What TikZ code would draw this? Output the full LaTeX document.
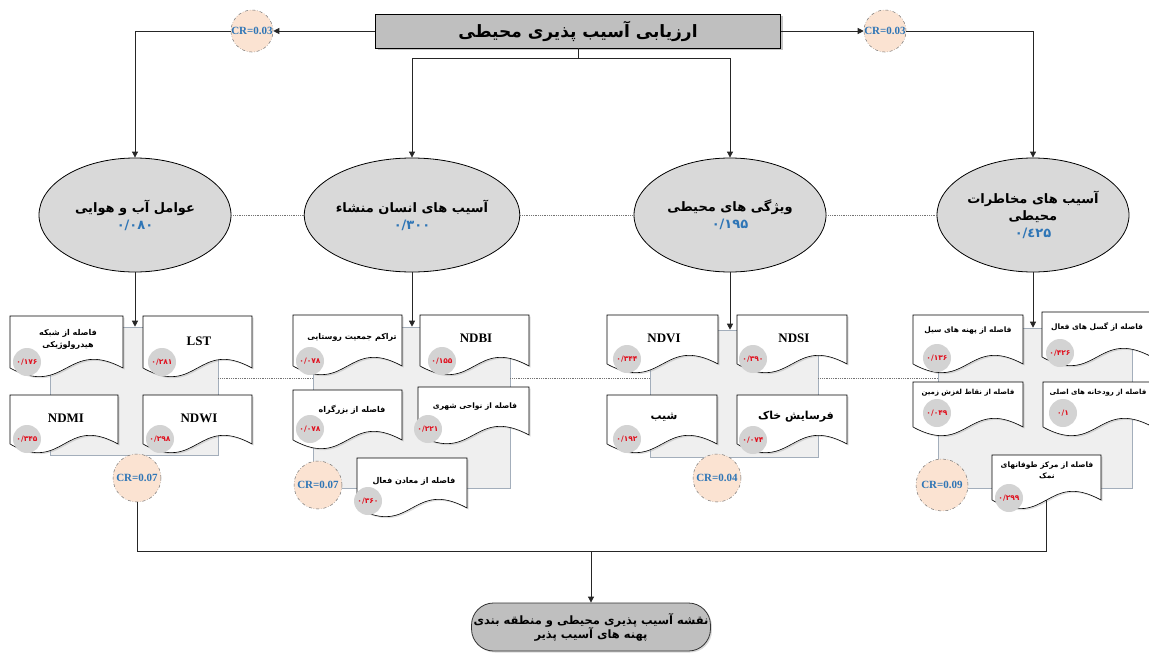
\documentclass[tikz,border=0pt]{standalone}
\usepackage{fontspec}
\setmainfont{Liberation Serif}
\newfontfamily\arabicfont[Script=Arabic]{DejaVu Sans}
\newfontfamily\numfont{DejaVu Sans}
\TeXXeTstate=1
\usetikzlibrary{arrows.meta,shapes.geometric,shadows,calc}
\newcommand\fa[1]{{\arabicfont\beginR #1\endR}}
\definecolor{titlegray}{HTML}{BFBFBF}
\definecolor{ellgray}{HTML}{D9D9D9}
\definecolor{panelgray}{HTML}{EFEFEF}
\definecolor{panelline}{HTML}{A3AEBB}
\definecolor{peach}{HTML}{FBE3D2}
\definecolor{crblue}{HTML}{2E75B6}
\definecolor{valgray}{HTML}{D3D3D3}
\definecolor{valred}{HTML}{E0101E}
\newcommand\mkdoc[5]{%
  \node[docbox, minimum width=#4, minimum height=#5, anchor=north west] (#1) at (#2,#3) {};
  \path[docline] (#1.south west) -- (#1.north west) -- (#1.north east) -- (#1.south east)
    .. controls ($(#1.south)+(0,-30)$) and ($(#1.south)+(0,30)$) .. (#1.south west) -- cycle;}
\begin{document}
\begin{tikzpicture}[x=1pt,y=-1pt,
  titlest/.style={draw=black, line width=0.8pt, fill=titlegray, minimum width=405, minimum height=34,
    font=\arabicfont\bfseries\fontsize{17}{20}\selectfont,
    drop shadow={shadow xshift=2pt,shadow yshift=-2pt,opacity=0.45}},
  ell/.style={ellipse, draw=black, line width=0.8pt, fill=ellgray, minimum width=192, minimum height=114,
    align=center, inner sep=0pt, font=\arabicfont\bfseries\fontsize{13}{17}\selectfont},
  crc/.style={circle, draw=black!55, dash dot, line width=0.5pt, fill=peach, minimum size=#1, inner sep=0pt,
    text=crblue, font=\bfseries\fontsize{11}{13}\selectfont},
  crc/.default=48,
  panel/.style={draw=panelline, fill=panelgray, line width=0.6pt, inner sep=0pt},
  docbox/.style={inner sep=0pt, outer sep=0pt, rectangle},
  docline/.style={draw=black, line width=0.6pt, fill=white,
    drop shadow={shadow xshift=1.5pt,shadow yshift=-1.5pt,opacity=0.25}},
  valc/.style={circle, fill=valgray, inner sep=0pt, minimum size=28, text=valred,
    font=\numfont\bfseries\fontsize{7.5}{9}\selectfont},
  lat/.style={font=\bfseries\fontsize{13}{15}\selectfont},
  fat/.style={font=\arabicfont\bfseries\fontsize{8}{12}\selectfont, align=center, inner sep=1pt},
  conn/.style={draw=black!85, line width=0.8pt},
  arr/.style={conn, -{Triangle[length=6pt,width=6pt]}},
  dotl/.style={draw=black!55, densely dotted, line width=0.8pt},
  finalst/.style={draw=black!80, line width=0.8pt, fill=titlegray, rounded corners=22pt,
    minimum width=235, minimum height=48, align=center, inner sep=2pt,
    font=\arabicfont\bfseries\fontsize{11.5}{14}\selectfont,
    drop shadow={shadow xshift=1.5pt,shadow yshift=-1.5pt,opacity=0.3}}
]
\useasboundingbox (0,0) rectangle (1149,653);

% ---------- top ----------
\node[titlest] (title) at (578,31) {\fa{ارزیابی آسیب پذیری محیطی}};
\node[crc=40] (crL) at (252,31) {CR=0.03};
\node[crc=40] (crR) at (885,31) {CR=0.03};
\coordinate (tl) at (135,31);
\coordinate (tr) at (1033,31);
\coordinate (bm) at (578,58);
\coordinate (bl) at (412,58);
\coordinate (br) at (730,58);

% ---------- ellipses ----------
\node[ell] (e1) at (135,215) {\fa{عوامل آب و هوایی}\\{\numfont\color{crblue}۰/۰۸۰}};
\node[ell] (e2) at (412,215) {\fa{آسیب های انسان منشاء}\\{\numfont\color{crblue}۰/۳۰۰}};
\node[ell] (e3) at (730,215) {\fa{ویژگی های محیطی}\\{\numfont\color{crblue}۰/۱۹۵}};
\node[ell] (e4) at (1033,215) {\fa{آسیب های مخاطرات}\\\fa{محیطی}\\{\numfont\color{crblue}۰/٤۲۵}};

\draw[arr] (title.west) -- (crL);
\draw[arr] (crL) -- (tl) -- (e1);
\draw[arr] (title.east) -- (crR);
\draw[arr] (crR) -- (tr) -- (e4);
\draw[conn] (title.south) -- (bm);
\draw[arr] (bm) -- (bl) -- (e2);
\draw[arr] (bm) -- (br) -- (e3);
\draw[dotl] (e1) -- (e2);
\draw[dotl] (e2) -- (e3);
\draw[dotl] (e3) -- (e4);

% ---------- panels ----------
\node[panel, minimum width=168, minimum height=128] (P1) at (134,391) {};
\node[panel, minimum width=197, minimum height=161] (P2) at (411.5,407.5) {};
\node[panel, minimum width=168, minimum height=127] (P3) at (734,393.5) {};
\node[panel, minimum width=194, minimum height=160] (P4) at (1035,408) {};
\coordinate (dl) at (0,378);
\draw[dotl] (P1.east |- dl) -- (P2.west |- dl);
\draw[dotl] (P2.east |- dl) -- (P3.west |- dl);
\draw[dotl] (P3.east |- dl) -- (P4.west |- dl);
\draw[arr] (e1) -- (e1 |- P1.north);
\draw[arr] (e2) -- (e2 |- P2.north);
\draw[arr] (e3) -- (e3 |- P3.north);
\draw[arr] (e4) -- (e4 |- P4.north);

% ---------- cluster 1 ----------
\mkdoc{d1a}{10}{316}{113}{52}
\mkdoc{d1b}{143}{316}{109}{52}
\mkdoc{d1c}{10}{395}{108}{49}
\mkdoc{d1d}{143}{395}{109}{49}
\node[fat] (t1a) at (68,339) {\fa{فاصله از شبکه}\\\fa{هیدرولوژیکی}};
\node[lat] (t1b) at (199,341) {LST};
\node[lat] (t1c) at (66,418) {NDMI};
\node[lat] (t1d) at (199,418) {NDWI};
\node[valc] (v1a) at (27,362) {۰/۱۷۶};
\node[valc] (v1b) at (162,362) {۰/۲۸۱};
\node[valc] (v1c) at (27,439) {۰/۳۴۵};
\node[valc] (v1d) at (160,439) {۰/۲۹۸};
\node[crc] (cr1) at (137,478) {CR=0.07};

% ---------- cluster 2 ----------
\mkdoc{d2a}{293}{315}{109}{51}
\mkdoc{d2b}{420}{315}{109}{51}
\mkdoc{d2c}{293}{390}{109}{50}
\mkdoc{d2d}{418}{387}{111}{48}
\mkdoc{d2e}{357}{458}{110}{50}
\node[fat] (t2a) at (352,337) {\fa{تراکم جمعیت روستایی}};
\node[lat] (t2b) at (476,338) {NDBI};
\node[fat] (t2c) at (352,410) {\fa{فاصله از بزرگراه}};
\node[fat, font=\arabicfont\bfseries\fontsize{7.5}{11}\selectfont] (t2d) at (475,407) {\fa{فاصله از نواحی شهری}};
\node[fat] (t2e) at (414,481) {\fa{فاصله از معادن فعال}};
\node[valc] (v2a) at (310,361) {۰/۰۷۸};
\node[valc] (v2b) at (442,361) {۰/۱۵۵};
\node[valc] (v2c) at (310,429) {۰/۰۷۸};
\node[valc] (v2d) at (428,429) {۰/۲۲۱};
\node[valc] (v2e) at (368,501) {۰/۳۶۰};
\node[crc] (cr2) at (318,485) {CR=0.07};

% ---------- cluster 3 ----------
\mkdoc{d3a}{607}{315}{111}{49}
\mkdoc{d3b}{737}{315}{110}{49}
\mkdoc{d3c}{607}{395}{110}{49}
\mkdoc{d3d}{737}{395}{110}{49}
\node[lat] (t3a) at (664,338) {NDVI};
\node[lat] (t3b) at (794,338) {NDSI};
\node[fat, font=\arabicfont\bfseries\fontsize{11}{13}\selectfont] (t3c) at (664,417) {\fa{شیب}};
\node[fat, font=\arabicfont\bfseries\fontsize{11}{13}\selectfont] (t3d) at (796,417) {\fa{فرسایش خاک}};
\node[valc] (v3a) at (627,359) {۰/۳۴۴};
\node[valc] (v3b) at (753,359) {۰/۳۹۰};
\node[valc] (v3c) at (627,439) {۰/۱۹۲};
\node[valc] (v3d) at (753,440) {۰/۰۷۴};
\node[crc] (cr3) at (717,478) {CR=0.04};

% ---------- cluster 4 ----------
\mkdoc{d4a}{913}{315}{110}{49}
\mkdoc{d4b}{1042}{312}{110}{45}
\mkdoc{d4c}{913}{382}{110}{45}
\mkdoc{d4d}{1043}{382}{110}{45}
\mkdoc{d4e}{992}{455}{109}{45}
\node[fat, font=\arabicfont\bfseries\fontsize{7.5}{11}\selectfont] (t4a) at (968,331) {\fa{فاصله از پهنه های سیل}};
\node[fat, font=\arabicfont\bfseries\fontsize{7.5}{11}\selectfont] (t4b) at (1097,327) {\fa{فاصله از گسل های فعال}};
\node[fat, font=\arabicfont\bfseries\fontsize{7}{11}\selectfont] (t4c) at (968,393) {\fa{فاصله از نقاط لغزش زمین}};
\node[fat, font=\arabicfont\bfseries\fontsize{7}{11}\selectfont] (t4d) at (1098,393) {\fa{فاصله از رودخانه های اصلی}};
\node[fat, font=\arabicfont\bfseries\fontsize{7.5}{11}\selectfont] (t4e) at (1047,470) {\fa{فاصله از مرکز طوفانهای}\\\fa{نمک}};
\node[valc] (v4a) at (937,358) {۰/۱۳۶};
\node[valc] (v4b) at (1060,353) {۰/۴۲۶};
\node[valc] (v4c) at (937,413) {۰/۰۴۹};
\node[valc] (v4d) at (1063,413) {۰/۱};
\node[valc] (v4e) at (1009,498) {۰/۲۹۹};
\node[crc=52] (cr4) at (942,485) {CR=0.09};

% ---------- bottom ----------
\coordinate (b1) at (137,551);
\coordinate (b2) at (1046.5,551);
\coordinate (bm2) at (591,551);
\draw[conn] (cr1) -- (b1) -- (b2) -- (d4e.south);
\node[finalst] (final) at (591,627) {\fa{نقشه آسیب پذیری محیطی و منطقه بندی}\\\fa{پهنه های آسیب پذیر}};
\draw[arr] (bm2) -- (final);
\end{tikzpicture}
\end{document}
